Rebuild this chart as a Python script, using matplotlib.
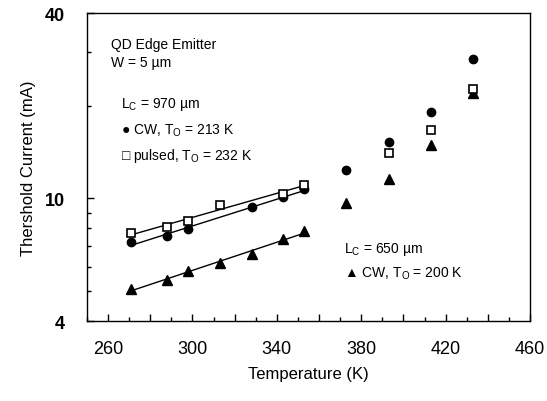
import numpy as np
import matplotlib
matplotlib.use("Agg")
import matplotlib.pyplot as plt
from matplotlib.ticker import FixedLocator, NullFormatter, FuncFormatter

plt.rcParams['font.family'] = ['Liberation Sans', 'DejaVu Sans']

# data
t_cw970 = [271, 288, 298, 328, 343, 353, 373, 393, 413, 433]
i_cw970 = [7.2, 7.55, 7.95, 9.35, 10.1, 10.7, 12.4, 15.2, 19.1, 28.4]
t_pul970 = [271, 288, 298, 313, 343, 353, 393, 413, 433]
i_pul970 = [7.7, 8.1, 8.45, 9.5, 10.35, 11.1, 14.0, 16.7, 22.6]
t_cw650 = [271, 288, 298, 313, 328, 343, 353, 373, 393, 413, 433]
i_cw650 = [5.1, 5.45, 5.8, 6.15, 6.6, 7.4, 7.85, 9.65, 11.6, 14.9, 22.0]

fit_max = 353  # fitted lines only run over the low-temperature range

fig = plt.figure(figsize=(5.47, 4.02), dpi=100)
ax = fig.add_axes([0.159, 0.199, 0.81, 0.766])

def fit_line(t, i):
    t = np.array(t); i = np.array(i)
    m = t <= fit_max
    p = np.polyfit(t[m], np.log(i[m]), 1)
    tt = np.array([t[m].min(), t[m].max()])
    ax.plot(tt, np.exp(np.polyval(p, tt)), color='black', lw=1.0, zorder=1)

fit_line(t_cw970, i_cw970)
fit_line(t_pul970, i_pul970)
fit_line(t_cw650, i_cw650)

ax.plot(t_cw970, i_cw970, 'o', color='black', ms=6, ls='none', zorder=3)
ax.plot(t_pul970, i_pul970, 's', mfc='white', mec='black', mew=1.2, ms=5.5, ls='none', zorder=4)
ax.plot(t_cw650, i_cw650, '^', color='black', ms=7, ls='none', zorder=3)

ax.set_yscale('log')
ax.set_xlim(250, 460)
ax.set_ylim(4, 40)

ax.xaxis.set_major_locator(FixedLocator(np.arange(260, 461, 20)))
ax.xaxis.set_minor_locator(FixedLocator(np.arange(250, 461, 10)))
ax.xaxis.set_major_formatter(FuncFormatter(lambda v, p: f'{v:.0f}' if int(round(v)) % 40 == 20 else ''))
ax.yaxis.set_major_locator(FixedLocator([4, 10, 40]))
ax.yaxis.set_minor_locator(FixedLocator([5, 6, 7, 8, 9, 20, 30]))
ax.yaxis.set_major_formatter(FuncFormatter(lambda v, p: f'{v:.0f}'))
ax.yaxis.set_minor_formatter(NullFormatter())

ax.tick_params(which='both', direction='in', labelsize=13, width=1)
ax.tick_params(which='major', length=5)
ax.tick_params(which='minor', length=3)
ax.tick_params(axis='x', pad=14)
ax.tick_params(axis='y', pad=16)
for lbl in ax.get_yticklabels():
    lbl.set_fontweight('bold')
for s in ax.spines.values():
    s.set_linewidth(1.0)

ax.set_xlabel('Temperature (K)', fontsize=12, labelpad=6)
ax.set_ylabel('Thershold Current (mA)', fontsize=12, labelpad=6)

fs = 10
ax.text(0.055, 0.888, 'QD Edge Emitter', transform=ax.transAxes, fontsize=fs)
ax.text(0.055, 0.828, 'W = 5 \u00b5m', transform=ax.transAxes, fontsize=fs)
ax.text(0.077, 0.695, 'L$_\\mathregular{C}$ = 970 \u00b5m', transform=ax.transAxes, fontsize=fs)
ax.text(0.077, 0.607, '\u25cf CW, T$_\\mathregular{O}$ = 213 K', transform=ax.transAxes, fontsize=fs)
ax.text(0.077, 0.527, '\u25a1 pulsed, T$_\\mathregular{O}$ = 232 K', transform=ax.transAxes, fontsize=fs)
ax.text(0.58, 0.225, 'L$_\\mathregular{C}$ = 650 \u00b5m', transform=ax.transAxes, fontsize=fs)
ax.text(0.58, 0.145, '\u25b2 CW, T$_\\mathregular{O}$ = 200 K', transform=ax.transAxes, fontsize=fs)

fig.savefig('out.png', dpi=100)
